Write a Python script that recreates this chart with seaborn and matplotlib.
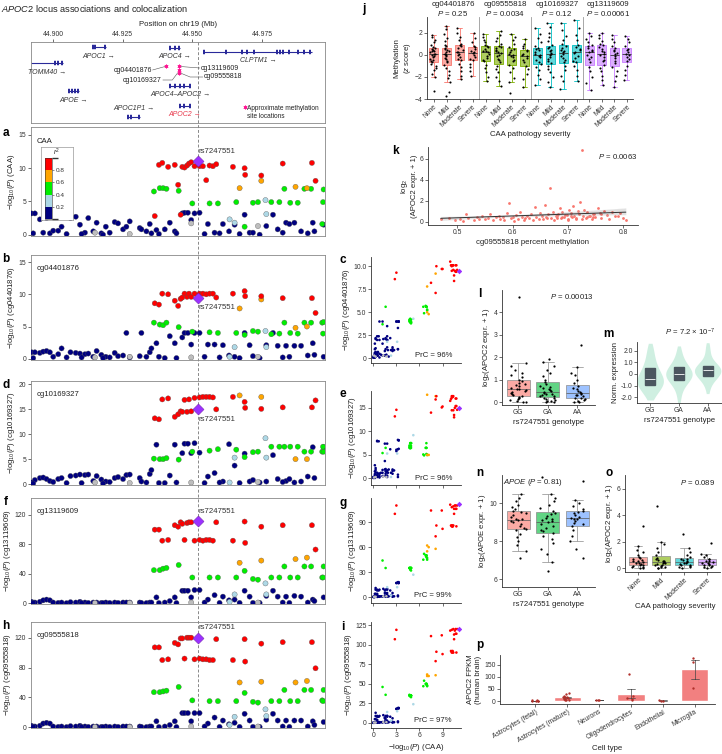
import numpy as np
import pandas as pd
import matplotlib
matplotlib.use("Agg")
import matplotlib.pyplot as plt
import seaborn as sns
from matplotlib.colors import ListedColormap, BoundaryNorm, to_rgb
from matplotlib.cm import ScalarMappable
from matplotlib.lines import Line2D

sns.set_theme(style="ticks")
plt.rcParams["font.family"] = ["Liberation Sans", "DejaVu Sans"]
plt.rcParams.update({
    "mathtext.fontset": "custom",
    "mathtext.rm": "Liberation Sans",
    "mathtext.it": "Liberation Sans:italic",
    "mathtext.bf": "Liberation Sans:bold",
    "axes.linewidth": 0.6,
    "axes.edgecolor": "#333333",
    "xtick.major.size": 2,
    "ytick.major.size": 2,
    "xtick.major.width": 0.5,
    "ytick.major.width": 0.5,
    "xtick.major.pad": 1.2,
    "ytick.major.pad": 1.2,
    "xtick.labelsize": 4.9,
    "ytick.labelsize": 4.9,
    "axes.labelsize": 5.6,
    "axes.labelpad": 1.5,
    "xtick.color": "#333333",
    "ytick.color": "#333333",
    "text.color": "#222222",
    "axes.labelcolor": "#222222",
})
np.random.seed(3)

# ---------------- data ----------------
# genes on chr19 (Mb)
gene_names = ["TOMM40", "APOC1", "APOE", "APOC1P1", "APOC4", "APOC4–APOC2", "APOC2", "CLPTM1"]
gene_start = [44.8919, 44.9141, 44.9054, 44.9266, 44.9419, 44.9419, 44.9455, 44.9541]
gene_end = [44.9036, 44.9189, 44.9093, 44.9311, 44.9455, 44.9493, 44.9493, 44.9931]
gene_exons = [
    [44.9006, 44.9018, 44.9031],
    [44.9143, 44.9151, 44.9187],
    [44.9056, 44.9066, 44.9079, 44.9090],
    [44.9268, 44.9279, 44.9309],
    [44.9421, 44.9439, 44.9453],
    [44.9421, 44.9439, 44.9456, 44.9470, 44.9490],
    [44.9457, 44.9470, 44.9490],
    [44.9543, 44.9620, 44.9680, 44.9695, 44.9722, 44.9803, 44.9815, 44.9827,
     44.9846, 44.9880, 44.9900, 44.9922],
]
site_names = ["cg04401876", "cg13119609", "cg10169327", "cg09555818"]
site_pos = [44.9407, 44.9452, 44.9452, 44.9452]

lead_snp = "rs7247551"
lead_pos = 44.9520
lead_logp = {"caa": 11.1, "cg04401876": 9.5, "cg10169327": 15.0,
             "cg13119609": 112, "cg09555818": 120}

snp_pos = [
    # r2 < 0.2
    44.8922, 44.8934, 44.8928, 44.8952, 44.8964, 44.8976, 44.8988, 44.9000, 44.9018, 44.9030,
    44.9048, 44.9062, 44.9081, 44.9096, 44.9114, 44.9126, 44.9144, 44.9156, 44.9173, 44.9189,
    44.9203, 44.9221, 44.9233, 44.9251, 44.9263, 44.9275, 44.9311, 44.9317, 44.9335, 44.9347,
    44.9353, 44.9102, 44.9179, 44.9371, 44.9401, 44.9419, 44.9437, 44.9464, 44.9472, 44.9484,
    44.9496, 44.9508, 44.9526, 44.9556, 44.9580, 44.9610, 44.9632, 44.9652, 44.9688, 44.9706,
    44.9766, 44.9790, 44.9807, 44.9837, 44.9867, 44.9891, 44.9933, 44.9972, 44.9544, 44.9598,
    44.9670, 44.9718, 44.9742, 44.9825, 44.9849, 44.9915, 44.9939, 44.9443, 44.9380,
    # no LD
    44.9275, 44.9496, 44.9736, 44.9150,
    # 0.2-0.4
    44.9652, 44.9763, 44.9766, 44.9634,
    # 0.4-0.6
    44.9362, 44.9383, 44.9395, 44.9407, 44.9451, 44.9500, 44.9562, 44.9592, 44.9658, 44.9688,
    44.9718, 44.9736, 44.9784, 44.9813, 44.9831, 44.9852, 44.9879, 44.9903, 44.9927, 44.9967,
    44.9972, 44.9970,
    # 0.6-0.8
    44.9670, 44.9748, 44.9871, 44.9912,
    # > 0.8
    44.9365, 44.9380, 44.9392, 44.9413, 44.9437, 44.9449, 44.9458, 44.9464, 44.9472, 44.9481,
    44.9488, 44.9496, 44.9508, 44.9526, 44.9538, 44.9550, 44.9562, 44.9574, 44.9586, 44.9646,
    44.9688, 44.9690, 44.9748, 44.9825, 44.9930, 44.9943,
]
snp_ld = (["0-0.2"] * 69 + ["NA"] * 4 + ["0.2-0.4"] * 4 + ["0.4-0.6"] * 22
          + ["0.6-0.8"] * 4 + ["0.8-1"] * 26)

logp_caa = [
    3.2, 3.2, 0.2, 2.3, 0.3, 2.5, 0.2, 0.6, 0.6, 1.2,
    0.1, 2.5, 2.7, 1.5, 0.3, 2.5, 0.5, 1.8, 0.2, 1.2,
    0.3, 1.9, 1.7, 0.8, 1.2, 2.0, 1.0, 0.8, 0.5, 1.6,
    0.2, 0.1, 0.0, 0.7, 0.8, 1.8, 0.5, 3.2, 3.3, 3.3,
    2.2, 3.2, 3.3, 1.6, 0.3, 1.6, 0.5, 1.5, 3.0, 0.3,
    1.3, 3.0, 0.8, 1.8, 1.8, 0.5, 1.8, 1.5, 0.1, 0.2,
    0.1, 0.3, 0.0, 0.3, 1.6, 0.2, 0.5, 0.2, 0.1,
    0.1, 1.7, 1.3, 0.3,
    1.8, 5.2, 3.1, 2.3,
    6.5, 7.0, 7.0, 6.9, 6.6, 4.7, 4.7, 4.7, 4.9, 1.2,
    4.8, 4.9, 4.9, 4.9, 6.9, 4.8, 4.8, 6.9, 6.9, 1.6,
    6.8, 4.9,
    7.0, 8.1, 7.2, 7.0,
    2.8, 10.5, 10.8, 10.2, 10.5, 7.5, 3.0, 10.2, 10.1, 10.4,
    10.7, 10.9, 10.3, 10.3, 10.3, 8.2, 10.4, 10.3, 10.6, 10.2,
    10.0, 9.0, 8.9, 10.7, 10.8, 8.1,
]
logp_cg04401876 = [
    1.0, 1.0, 0.1, 0.9, 1.1, 1.2, 1.0, 0.3, 0.7, 1.6,
    0.2, 1.0, 0.9, 0.8, 0.7, 0.8, 0.3, 1.2, 0.6, 0.3,
    0.2, 0.9, 0.4, 0.5, 4.0, 0.2, 0.4, 4.0, 0.3, 1.0,
    1.6, 0.2, 0.1, 2.4, 0.1, 3.5, 2.4, 3.3, 4.0, 4.0,
    2.2, 4.0, 4.0, 2.2, 2.2, 2.1, 0.5, 0.3, 4.0, 2.1,
    2.1, 4.0, 2.0, 2.0, 2.0, 2.0, 2.4, 0.3, 0.3, 0.2,
    0.1, 0.4, 0.1, 0.2, 0.3, 0.5, 0.6, 0.1, 0.3,
    0.3, 0.2, 0.3, 0.2,
    1.8, 4.3, 1.8, 0.3,
    5.6, 5.3, 5.2, 5.6, 4.9, 4.2, 4.1, 4.0, 4.0, 3.7,
    4.3, 4.2, 3.8, 3.9, 5.6, 4.0, 3.9, 5.6, 5.6, 5.6,
    5.7, 3.9,
    7.8, 9.2, 4.8, 5.0,
    8.6, 8.4, 10.1, 10.0, 9.0, 8.2, 9.3, 9.5, 10.1, 9.6,
    10.1, 9.6, 10.1, 10.1, 10.1, 10.0, 10.1, 10.1, 9.5, 10.1,
    10.5, 9.7, 9.7, 9.4, 9.4, 7.1,
]
logp_cg10169327 = [
    0.3, 0.8, 0.1, 1.2, 1.3, 1.0, 0.6, 0.4, 1.0, 1.2,
    0.2, 1.6, 1.7, 1.9, 1.8, 1.9, 0.6, 1.6, 0.9, 0.5,
    0.4, 1.2, 1.4, 1.0, 1.8, 1.9, 1.2, 0.5, 0.3, 2.0,
    2.8, 0.2, 0.1, 7.9, 0.2, 1.7, 7.9, 6.2, 8.1, 8.1,
    6.2, 8.2, 6.3, 1.5, 2.2, 0.5, 8.0, 3.7, 6.1, 0.5,
    0.5, 5.8, 1.0, 0.6, 0.3, 0.5, 7.4, 7.4, 0.2, 0.3,
    0.2, 0.8, 0.3, 0.4, 1.0, 1.5, 1.2, 0.3, 0.2,
    0.2, 0.3, 0.4, 0.3,
    5.3, 9.2, 5.3, 0.3,
    5.1, 5.0, 5.0, 5.2, 4.9, 6.5, 6.7, 7.0, 6.9, 5.4,
    6.4, 6.5, 7.5, 7.5, 7.5, 7.5, 7.5, 6.5, 6.5, 6.5,
    6.5, 7.5,
    17.8, 17.5, 5.0, 5.0,
    13.2, 13.0, 17.0, 17.2, 13.5, 14.0, 14.6, 14.5, 16.9, 14.5,
    17.0, 14.6, 17.3, 17.4, 17.5, 17.5, 17.5, 17.4, 15.0, 17.5,
    16.5, 15.3, 15.1, 15.4, 15.4, 16.8,
]
logp_cg13119609 = [
    2, 1, 0.5, 2, 4, 5, 4, 1, 0.5, 1,
    0.2, 1.5, 1, 2, 1, 0.5, 1, 1, 0.5, 1,
    0.5, 1, 0.5, 1, 1, 1, 1, 0.5, 0.3, 1,
    1, 0.3, 0.2, 8, 1, 3, 8, 17, 17, 17,
    8, 18, 18, 5, 11, 9, 4, 5, 17, 9,
    10, 17, 9, 9, 10, 9, 5, 8, 1, 0.5,
    0.5, 0.5, 0.5, 1, 0.5, 1, 3, 0.3, 0.3,
    0.5, 1, 1, 0.5,
    12, 27, 12, 2,
    45, 45, 47, 48, 52, 35, 35, 35, 35, 44,
    33, 32, 35, 35, 50, 35, 35, 50, 50, 35,
    50, 35,
    55, 58, 60, 62,
    100, 100, 85, 86, 106, 104, 110, 108, 86, 109,
    110, 110, 85, 86, 85, 86, 86, 85, 110, 85,
    111, 82, 104, 106, 106, 73,
]
logp_cg09555818 = [
    2, 1, 0.5, 2, 5, 6, 5, 1, 0.5, 1,
    0.3, 1.5, 1, 2, 1, 0.5, 1, 1, 0.5, 1,
    0.5, 1, 0.5, 1, 1, 1, 1, 0.5, 0.3, 1,
    1, 0.3, 0.2, 8, 1, 3, 8, 19, 19, 19,
    8, 19, 19, 5, 13, 9, 4, 6, 18, 9,
    10, 18, 9, 9, 9, 9, 8, 7, 1, 0.5,
    0.5, 0.5, 0.5, 1, 0.5, 1, 3, 0.3, 0.3,
    0.5, 1, 1, 0.5,
    14, 24, 15, 3,
    47, 47, 48, 49, 54, 36, 35, 35, 35, 46,
    34, 33, 35, 35, 50, 35, 35, 50, 50, 36,
    50, 35,
    60, 61, 60, 62,
    107, 107, 90, 91, 113, 111, 119, 119, 92, 120,
    120, 120, 91, 92, 91, 91, 90, 90, 118, 90,
    118, 88, 112, 114, 114, 79,
]
prc = {"cg04401876": "96%", "cg10169327": "96%", "cg13119609": "99%", "cg09555818": "97%"}

severity = ["None", "Mild", "Moderate", "Severe"]
genotypes = ["GG", "GA", "AA"]

# j: methylation z scores by CAA severity
meth_cg04401876 = {
    "None": [-3.3, -2.0, -1.7, -1.4, -1.2, -1.0, -0.8, -0.65, -0.6, -0.5, -0.35, -0.2, -0.1, 0.0,
             0.1, 0.1, 0.2, 0.3, 0.35, 0.45, 0.55, 0.6, 0.7, 0.9, 1.1, 1.3, 1.6, 1.8],
    "Mild": [-3.7, -3.4, -2.5, -2.1, -1.8, -1.5, -1.2, -0.9, -0.7, -0.55, -0.4, -0.3, -0.15, 0.0,
             0.05, 0.1, 0.2, 0.3, 0.4, 0.5, 0.6, 0.75, 0.9, 1.2, 1.5, 1.9, 2.3, 2.6],
    "Moderate": [-2.2, -1.9, -1.5, -1.1, -0.8, -0.5, -0.4, -0.2, 0.0, 0.1, 0.2, 0.25, 0.4, 0.6,
                 0.8, 0.9, 1.0, 1.3, 1.6, 2.0, 2.4],
    "Severe": [-1.9, -1.5, -1.1, -0.8, -0.5, -0.4, -0.2, 0.0, 0.15, 0.2, 0.35, 0.5, 0.7, 0.8,
               1.1, 1.5, 2.0],
}
meth_cg09555818 = {
    "None": [-2.4, -2.0, -1.6, -1.2, -0.9, -0.6, -0.45, -0.3, -0.1, 0.05, 0.2, 0.3, 0.35, 0.5,
             0.65, 0.8, 0.9, 1.1, 1.3, 1.6, 1.9],
    "Mild": [-2.8, -2.4, -2.0, -1.6, -1.3, -1.0, -0.7, -0.5, -0.35, -0.15, 0.0, 0.15, 0.25, 0.35,
             0.45, 0.6, 0.7, 0.8, 1.0, 1.2, 1.5, 1.8, 2.1],
    "Moderate": [-3.5, -2.5, -2.1, -1.6, -1.2, -0.9, -0.6, -0.45, -0.25, -0.1, 0.0, 0.1, 0.25,
                 0.4, 0.55, 0.7, 0.95, 1.3, 1.6, 1.9],
    "Severe": [-2.9, -2.2, -1.7, -1.3, -1.0, -0.7, -0.5, -0.3, -0.1, 0.0, 0.1, 0.3, 0.45, 0.6,
               0.8, 1.0, 1.4],
}
meth_cg10169327 = {
    "None": [-2.7, -2.2, -1.8, -1.4, -1.1, -0.8, -0.7, -0.45, -0.25, -0.1, 0.0, 0.1, 0.25, 0.4,
             0.5, 0.6, 0.8, 1.1, 1.5, 1.9, 2.4],
    "Mild": [-2.9, -2.5, -2.0, -1.6, -1.3, -1.0, -0.75, -0.6, -0.4, -0.2, -0.05, 0.05, 0.15,
             0.3, 0.45, 0.6, 0.7, 0.9, 1.2, 1.6, 2.0, 2.5, 2.9],
    "Moderate": [-3.1, -2.4, -1.9, -1.4, -1.0, -0.7, -0.5, -0.3, -0.1, 0.1, 0.2, 0.3, 0.45, 0.6,
                 0.8, 1.0, 1.3, 1.7, 2.2, 2.9],
    "Severe": [-2.4, -1.9, -1.4, -1.0, -0.7, -0.6, -0.3, -0.1, 0.15, 0.25, 0.4, 0.55, 0.7, 0.9,
               1.3, 1.8, 2.4, 3.1],
}
meth_cg13119609 = {
    "None": [-3.2, -2.6, -2.0, -1.5, -1.1, -0.7, -0.4, -0.2, 0.0, 0.2, 0.35, 0.45, 0.6, 0.75,
             0.9, 1.1, 1.4, 1.7, 2.0],
    "Mild": [-2.7, -2.3, -1.9, -1.5, -1.2, -0.9, -0.6, -0.45, -0.25, -0.05, 0.1, 0.25, 0.35,
             0.5, 0.65, 0.85, 1.0, 1.2, 1.5, 1.8, 2.0],
    "Moderate": [-2.9, -2.4, -1.9, -1.5, -1.1, -0.75, -0.55, -0.3, -0.1, 0.05, 0.15, 0.3, 0.45,
                 0.6, 0.8, 1.1, 1.4, 1.8],
    "Severe": [-2.3, -1.8, -1.4, -1.0, -0.6, -0.4, -0.2, 0.0, 0.1, 0.25, 0.4, 0.55, 0.8, 1.1,
               1.4, 1.7],
}
j_probes = ["cg04401876", "cg09555818", "cg10169327", "cg13119609"]
j_pvals = ["0.25", "0.0034", "0.12", "0.00061"]
j_data = [meth_cg04401876, meth_cg09555818, meth_cg10169327, meth_cg13119609]

# k: APOC2 expression vs cg09555818 methylation
meth_pct = [
    0.470, 0.485, 0.495, 0.505, 0.510, 0.515, 0.520, 0.530, 0.535, 0.540,
    0.545, 0.550, 0.555, 0.560, 0.565, 0.570, 0.575, 0.578, 0.582, 0.585,
    0.590, 0.593, 0.597, 0.600, 0.603, 0.607, 0.610, 0.613, 0.617, 0.620,
    0.623, 0.627, 0.630, 0.633, 0.637, 0.640, 0.643, 0.647, 0.650, 0.653,
    0.655, 0.658, 0.660, 0.663, 0.665, 0.667, 0.670, 0.673, 0.675, 0.678,
    0.680, 0.683, 0.685, 0.688, 0.690, 0.693, 0.695, 0.698, 0.700, 0.703,
    0.705, 0.708, 0.710, 0.712, 0.715, 0.718, 0.720, 0.722, 0.725, 0.727,
    0.730, 0.733, 0.735, 0.738, 0.740, 0.743, 0.745, 0.748, 0.750, 0.755,
    0.758, 0.760, 0.765, 0.770, 0.775, 0.780, 0.785, 0.790, 0.795, 0.800,
    0.805, 0.690, 0.715, 0.735, 0.705, 0.725, 0.745, 0.760, 0.680, 0.700,
]
apoc2_expr = [
    0.25, 0.40, 0.15, 0.30, 0.08, 0.78, 0.35, 0.20, 0.45, 0.30,
    0.60, 0.25, 0.38, 0.70, 0.15, 0.42, 0.55, 0.30, 0.48, 0.20,
    0.80, 1.75, 0.35, 0.50, 0.10, 0.65, 0.30, 0.95, 0.45, 0.20,
    0.40, 0.55, 0.35, 0.75, 0.15, 1.40, 0.50, 0.30, 0.85, 0.60,
    0.25, 1.55, 0.45, 0.40, 0.70, 3.20, 0.40, 0.90, 0.20, 0.55,
    0.55, 0.75, 1.30, 0.35, 0.95, 0.50, 0.65, 0.65, 0.30, 1.15,
    0.80, 0.45, 1.50, 0.60, 0.25, 1.00, 0.70, 1.85, 6.80, 0.55,
    1.10, 0.40, 0.90, 0.60, 0.60, 0.30, 0.75, 0.75, 0.50, 1.35,
    0.85, 0.40, 1.05, 0.65, 0.30, 0.95, 0.55, 0.55, 0.80, 0.40,
    0.15, 0.50, 0.35, 0.45, 0.60, 0.28, 0.42, 0.70, 0.38, 0.22,
]

# l: APOC2 expression by genotype
apoc2_by_geno = {
    "GG": [4.7, 1.75, 1.6, 1.45, 1.3, 1.2, 1.1, 1.0, 0.92, 0.85, 0.8, 0.75, 0.7, 0.65, 0.6,
           0.58, 0.55, 0.5, 0.45, 0.4, 0.35, 0.3, 0.28, 0.22, 0.18, 0.12, 0.08, 0.05, 0.02, 0.0],
    "GA": [1.9, 1.8, 1.6, 1.45, 1.3, 1.15, 1.0, 0.9, 0.8, 0.72, 0.68, 0.62, 0.58, 0.52, 0.48,
           0.45, 0.42, 0.38, 0.34, 0.3, 0.27, 0.25, 0.2, 0.16, 0.12, 0.08, 0.05, 0.03, 0.01, 0.0],
    "AA": [2.55, 1.55, 1.3, 1.2, 1.0, 0.85, 0.7, 0.62, 0.58, 0.5, 0.45, 0.4, 0.36, 0.33, 0.3,
           0.25, 0.2, 0.18, 0.14, 0.1, 0.05, 0.02, 0.0],
}
# m: normalized expression by genotype
norm_expr_by_geno = {
    "GG": [-2.0, -1.7, -1.5, -1.3, -1.15, -1.05, -0.95, -0.85, -0.75, -0.65, -0.55, -0.5, -0.4,
           -0.3, -0.2, -0.05, 0.1, 0.3, 0.5, 0.7, 0.9, 1.2, 1.6, 2.0, 2.4],
    "GA": [-2.3, -1.6, -1.2, -0.9, -0.75, -0.6, -0.5, -0.4, -0.3, -0.2, -0.1, -0.05, 0.0, 0.05,
           0.15, 0.25, 0.35, 0.45, 0.6, 0.7, 0.85, 1.05, 1.3, 1.7, 2.2],
    "AA": [-1.5, -0.9, -0.6, -0.4, -0.3, -0.2, -0.1, 0.0, 0.1, 0.2, 0.25, 0.3, 0.35, 0.45, 0.5,
           0.6, 0.7, 0.75, 0.9, 1.1, 1.5, 2.0, 2.5],
}
# n: APOE expression by genotype
apoe_by_geno = {
    "GG": [10.5, 10.3, 10.1, 9.9, 9.8, 9.7, 9.6, 9.55, 9.5, 9.4, 9.3, 9.2, 9.15, 9.1, 9.05, 9.0,
           8.9, 8.8, 8.7, 8.65, 8.6, 8.4, 8.2, 8.0, 7.8, 7.5, 7.1],
    "GA": [11.4, 10.5, 10.3, 10.1, 9.9, 9.75, 9.6, 9.5, 9.45, 9.35, 9.25, 9.15, 9.1, 9.05, 9.0,
           8.9, 8.8, 8.7, 8.6, 8.55, 8.45, 8.3, 8.1, 7.9, 7.6, 7.3, 6.9, 6.4],
    "AA": [11.2, 10.2, 10.0, 9.85, 9.7, 9.6, 9.55, 9.5, 9.4, 9.3, 9.25, 9.2, 9.15, 9.05, 8.95,
           8.9, 8.8, 8.6, 8.3, 8.0, 7.6, 7.1],
}
# o: APOC2 expression by CAA severity
apoc2_by_severity = {
    "None": [3.2, 1.7, 1.4, 1.2, 1.0, 0.85, 0.75, 0.7, 0.6, 0.55, 0.5, 0.45, 0.4, 0.35, 0.3,
             0.25, 0.2, 0.15, 0.1, 0.05, 0.02, 0.0],
    "Mild": [4.7, 2.0, 1.8, 1.5, 1.2, 1.0, 0.8, 0.65, 0.6, 0.55, 0.5, 0.45, 0.4, 0.35, 0.3,
             0.25, 0.2, 0.15, 0.1, 0.05, 0.02, 0.0],
    "Moderate": [2.55, 1.5, 1.2, 1.0, 0.85, 0.7, 0.65, 0.6, 0.5, 0.45, 0.4, 0.35, 0.3, 0.25,
                 0.2, 0.15, 0.1, 0.05, 0.0],
    "Severe": [1.9, 1.1, 1.0, 0.85, 0.7, 0.65, 0.55, 0.5, 0.45, 0.4, 0.35, 0.3, 0.25, 0.2,
               0.15, 0.1, 0.05, 0.0],
}
# p: APOC2 FPKM in human brain cell types
cell_types = ["Astrocytes (fetal)", "Astrocytes (mature)", "Neurons", "Oligodendrocytes",
              "Endothelial", "Microglia"]
fpkm_by_cell = {
    "Astrocytes (fetal)": [3.0, 2.0, 1.5, 2.5, 1.0, 2.0],
    "Astrocytes (mature)": [35, 28, 22, 18, 15, 12, 10, 8, 6, 5, 4, 17],
    "Neurons": [5.0, 3.0, 4.0],
    "Oligodendrocytes": [110, 20, 12, 8, 5],
    "Endothelial": [2.0, 3.0, 1.0],
    "Microglia": [178, 160, 55],
}

# ---------------- style ----------------
ld_order = ["0-0.2", "0.2-0.4", "0.4-0.6", "0.6-0.8", "0.8-1"]
ld_colors = {"0-0.2": "#000080", "0.2-0.4": "#ADD8E6", "0.4-0.6": "#00EE00",
             "0.6-0.8": "#FFA500", "0.8-1": "#FF0000", "NA": "#BEBEBE"}
lead_color = "#9B30FF"
gene_col = "#2A2A9A"
site_col = "#FF1493"
gg_colors = ["#F8766D", "#00BA38", "#619CFF"]
sev_colors = ["#F8766D", "#7CAE00", "#00BFC4", "#C77CFF"]
FS = 5.6   # annotation text size


def soften(c, a=0.62):
    r = np.array(to_rgb(c))
    return tuple(r * a + (1 - a))


def long_df(groups):
    keys, vals = [], []
    for k, v in groups.items():
        keys += [k] * len(v)
        vals += list(v)
    return pd.DataFrame({"grp": keys, "val": vals})


snps = pd.DataFrame({
    "pos": snp_pos, "ld": snp_ld, "caa": logp_caa,
    "cg04401876": logp_cg04401876, "cg10169327": logp_cg10169327,
    "cg13119609": logp_cg13119609, "cg09555818": logp_cg09555818,
})

W, H = 722, 754
fig = plt.figure(figsize=(W / 100, H / 100), dpi=100)


def box(x0, y0, x1, y1):
    return fig.add_axes([x0 / W, 1 - y1 / H, (x1 - x0) / W, (y1 - y0) / H])


def ftext(x, y, s, **kw):
    fig.text(x / W, 1 - y / H, s, **kw)


def letter(x, y, s):
    ftext(x, y, s, fontsize=8.5, fontweight="bold", ha="center", va="center", color="black")


x_lo, x_hi = 44.8919, 44.9977

ftext(1, 8, r"$\it{APOC2}$ locus associations and colocalization", fontsize=6.7, va="center")

# ---------------- gene track ----------------
axg = box(30.7, 42, 325, 123)
axg.set_facecolor("none")
axg.set_xlim(x_lo, x_hi)
axg.set_ylim(123, 42)
gene_row = [63, 47, 91, 117, 48, 86, 106, 52]
gene_lab_dy = [9, 9, 9, -8, 9, 9, 9, 9]
for name, s, e, ex, row, dy in zip(gene_names, gene_start, gene_end, gene_exons, gene_row, gene_lab_dy):
    axg.plot([s, e], [row, row], color=gene_col, lw=0.8, solid_capstyle="butt")
    for x in ex:
        axg.plot([x - 0.00035, x + 0.00035], [row, row], color=gene_col, lw=3.2,
                 solid_capstyle="butt")
    col = "#E8374A" if name == "APOC2" else "#333333"
    axg.text((max(s, x_lo) + e) / 2, row + dy, name + " →", fontsize=5.0, style="italic",
             ha="center", va="center", color=col)
site_row = [66, 66, 69.5, 73]
axg.scatter(site_pos, site_row, marker=(6, 2, 0), s=6, color=site_col, linewidth=0.5, zorder=4)
axg.plot([44.9357, 44.9402], [70, 66.5], color="#555555", lw=0.4)
axg.text(44.9354, 70, site_names[0], fontsize=5.0, ha="right", va="center")
axg.plot([44.9394, 44.9428, 44.9447], [80, 80, 73], color="#555555", lw=0.4)
axg.text(44.9391, 80, site_names[2], fontsize=5.0, ha="right", va="center")
axg.plot([44.9457, 44.9527], [66.5, 68], color="#555555", lw=0.4)
axg.text(44.9530, 68, site_names[1], fontsize=5.0, ha="left", va="center")
axg.plot([44.9457, 44.9492, 44.9538], [73, 77, 77], color="#555555", lw=0.4)
axg.text(44.9541, 77, site_names[3], fontsize=5.0, ha="left", va="center")
axg.scatter([44.9688], [106.5], marker=(6, 2, 0), s=6, color=site_col, linewidth=0.5)
axg.text(44.9697, 104.5, "Approximate methylation\nsite locations", fontsize=4.7, ha="left",
         va="top", linespacing=1.2)
axg.xaxis.tick_top()
axg.xaxis.set_label_position("top")
axg.set_xticks([44.900, 44.925, 44.950, 44.975])
axg.set_xticklabels(["44.900", "44.925", "44.950", "44.975"])
axg.set_yticks([])
axg.set_xlabel("Position on chr19 (Mb)", labelpad=3)
for sp in axg.spines.values():
    sp.set_color("#888888")

# ---------------- locus panels ----------------
locus_specs = [
    ("caa", "CAA", (127, 236), (-0.2, 16.2), [0, 5, 10, 15], 7, "a", 133),
    ("cg04401876", "cg04401876", (255, 360), (-0.2, 16.1), [0, 5, 10, 15], -7, "b", 259),
    ("cg10169327", "cg10169327", (381, 485), (-0.2, 20.7), [0, 5, 10, 15, 20], -7, "d", 385),
    ("cg13119609", "cg13119609", (498, 604), (-1, 143), [0, 40, 80, 120], 7, "f", 502),
    ("cg09555818", "cg09555818", (622, 728), (-1, 141), [0, 40, 80, 120], 7, "h", 626),
]
locus_axes = []
for col, lab, (y0, y1), ylim, yt, dy, let, ly in locus_specs:
    ax = box(30.7, y0, 325, y1)
    ax.set_facecolor("none")
    sns.scatterplot(data=snps, x="pos", y=col, hue="ld", palette=ld_colors, s=14,
                    edgecolor="#555555", linewidth=0.25, legend=False, ax=ax, zorder=3)
    ax.scatter([lead_pos], [lead_logp[col]], marker="D", s=32, color=lead_color,
               edgecolor="#6A1B9A", linewidth=0.3, zorder=5)
    ax.annotate(lead_snp, (lead_pos, lead_logp[col]), xytext=(0.5, dy), textcoords="offset points",
                fontsize=FS, ha="left", va="center", color="#333333")
    ax.text(0.02, 0.87, lab, transform=ax.transAxes, fontsize=FS, va="center")
    ax.set_xlim(x_lo, x_hi)
    ax.set_ylim(*ylim)
    ax.set_yticks(yt)
    ax.set_xticks([])
    ax.set_xlabel("")
    ax.set_ylabel(r"$-$log$_{10}$($\it{P}$) (" + lab + ")", labelpad=1)
    for sp in ax.spines.values():
        sp.set_color("#888888")
    locus_axes.append(ax)
    letter(6, ly, let)

# r2 legend in panel a
leg = box(41, 147, 73, 220)
leg.set_xticks([])
leg.set_yticks([])
for sp in leg.spines.values():
    sp.set_color("#999999")
    sp.set_linewidth(0.5)
cax = box(45, 158, 52, 219)
sm = ScalarMappable(norm=BoundaryNorm([0, 0.2, 0.4, 0.6, 0.8, 1.0], 5),
                    cmap=ListedColormap([ld_colors[k] for k in ld_order]))
cb = fig.colorbar(sm, cax=cax, ticks=[0.2, 0.4, 0.6, 0.8])
cb.outline.set_linewidth(0.4)
cax.tick_params(labelsize=4.6, length=1.5, width=0.4, pad=1)
ftext(57, 152, r"$\it{r}^2$", fontsize=5.0, ha="center", va="center")

# dashed line through the lead SNP
xf = fig.transFigure.inverted().transform(locus_axes[0].transData.transform((lead_pos, 0)))[0]
fig.add_artist(Line2D([xf, xf], [1 - 42 / H, 1 - 728 / H], transform=fig.transFigure,
                      ls=(0, (3, 2)), color="#888888", lw=0.7, zorder=-1))

# ---------------- colocalization scatters ----------------
scat_specs = [
    ("cg04401876", (257, 363), (-0.5, 11), [0, 2.5, 5, 7.5, 10], ["0", "2.5", "5.0", "7.5", "10.0"], "c", 260),
    ("cg10169327", (391, 485), (-1.4, 18.6), [0, 5, 10, 15], None, "e", 394),
    ("cg13119609", (498, 603), (-7, 119), [0, 30, 60, 90], None, "g", 503),
    ("cg09555818", (622, 728), (-6.4, 129), [0, 25, 50, 75, 100, 125], None, "i", 627),
]
for k, (col, (y0, y1), ylim, yt, ytl, let, ly) in enumerate(scat_specs):
    ax = box(371, y0, 461, y1)
    sns.scatterplot(data=snps, x="caa", y=col, hue="ld", palette=ld_colors, s=3.5,
                    linewidth=0, legend=False, ax=ax)
    ax.scatter([lead_logp["caa"]], [lead_logp[col]], marker="D", s=8, color=lead_color,
               linewidth=0, zorder=5)
    ax.set_xlim(-0.3, 11.4)
    ax.set_ylim(*ylim)
    ax.set_xticks([0, 3, 6, 9])
    ax.set_yticks(yt)
    if ytl:
        ax.set_yticklabels(ytl)
    ax.set_ylabel(r"$-$log$_{10}$($\it{P}$) (" + col + ")", labelpad=1)
    if k == 3:
        ax.set_xlabel(r"$-$log$_{10}$($\it{P}$) (CAA)")
    else:
        ax.set_xticklabels([])
        ax.set_xlabel("")
    ax.text(0.9, 0.07, "PrC = " + prc[col], transform=ax.transAxes, fontsize=FS,
            ha="right", va="center")
    sns.despine(ax=ax)
    letter(343, ly, let)

# ---------------- j ----------------
j_edges = [427, 479, 531, 583, 633]
for i in range(4):
    ax = box(j_edges[i], 17, j_edges[i + 1], 99)
    df = long_df(j_data[i])
    sns.boxplot(data=df, x="grp", y="val", order=severity, color=soften(sev_colors[i]),
                linecolor=sev_colors[i], linewidth=0.6, width=0.72, showfliers=False,
                saturation=1, medianprops={"color": "#333333"}, ax=ax)
    sns.stripplot(data=df, x="grp", y="val", order=severity, color="black", size=1.5,
                  jitter=0.25, ax=ax, zorder=3)
    ax.set_ylim(-4, 3.4)
    ax.set_yticks([-4, -2, 0, 2])
    ax.set_xticks(range(4))
    ax.set_xticklabels(severity, rotation=45, ha="right", rotation_mode="anchor")
    ax.set_xlabel("")
    xc = (j_edges[i] + j_edges[i + 1]) / 2
    ftext(xc, 5, j_probes[i], fontsize=5.7, ha="center", va="center")
    ftext(xc, 13.5, r"$\it{P}$ = " + j_pvals[i], fontsize=5.7, ha="center", va="center")
    if i == 0:
        ax.set_ylabel("Methylation\n(" + r"$\it{z}$" + " score)")
    else:
        ax.set_ylabel("")
        ax.tick_params(axis="y", left=False, labelleft=False)
        ax.spines["left"].set_color("#999999")
    sns.despine(ax=ax)
ftext(530, 134, "CAA pathology severity", fontsize=5.6, ha="center", va="center")
letter(364, 9, "j")

# ---------------- k ----------------
axk = box(428, 147, 638, 225)
sns.scatterplot(x=meth_pct, y=apoc2_expr, color="#F8766D", s=4, linewidth=0, ax=axk)
sns.regplot(x=meth_pct, y=apoc2_expr, scatter=False, color="#333333", ci=95, seed=0,
            line_kws={"linewidth": 0.7}, ax=axk)
axk.set_xlim(0.447, 0.827)
axk.set_ylim(-0.3, 7.1)
axk.set_xticks([0.5, 0.6, 0.7, 0.8])
axk.set_yticks([0, 2, 4, 6])
axk.set_xlabel("cg09555818 percent methylation")
axk.set_ylabel("log$_2$\n(APOC2 expr. + 1)")
axk.text(0.995, 0.88, r"$\it{P}$ = 0.0063", transform=axk.transAxes, fontsize=FS,
         ha="right", va="center")
sns.despine(ax=axk)
letter(395, 151, "k")


def box_strip(ax, groups, order, colors, width=0.78):
    df = long_df(groups)
    sns.boxplot(data=df, x="grp", y="val", hue="grp", order=order, hue_order=order,
                palette=[soften(c) for c in colors], linecolor="#8A8A8A", linewidth=0.5,
                width=width, showfliers=False, saturation=1, legend=False,
                medianprops={"color": "#555555"}, ax=ax)
    sns.stripplot(data=df, x="grp", y="val", order=order, color="black", size=1.6,
                  jitter=0.27, ax=ax, zorder=3)
    ax.set_xlabel("")
    sns.despine(ax=ax)


# ---------------- l ----------------
axl = box(502, 290, 595, 405)
box_strip(axl, apoc2_by_geno, genotypes, gg_colors)
axl.set_xlim(-0.55, 2.6)
axl.set_ylim(-0.13, 5.0)
axl.set_yticks([0, 1, 2, 3, 4])
axl.set_xlabel("rs7247551 genotype")
axl.set_ylabel("log$_2$(APOC2 expr. + 1)")
axl.text(0.75, 0.94, r"$\it{P}$ = 0.00013", transform=axl.transAxes, fontsize=FS,
         ha="center", va="center")
letter(480, 294, "l")

# ---------------- m ----------------
axm = box(637, 342, 722, 403)
dfm = long_df(norm_expr_by_geno)
sns.violinplot(data=dfm, x="grp", y="val", order=genotypes, color="#CFEFE1", inner=None,
               density_norm="width", width=0.92, cut=0.4, linewidth=0, saturation=1, ax=axm)
sns.boxplot(data=dfm, x="grp", y="val", order=genotypes, color="#4B565F", linecolor="#4B565F",
            width=0.34, showfliers=False, showcaps=False, whiskerprops={"linewidth": 0},
            medianprops={"color": "white", "linewidth": 0.6}, saturation=1, ax=axm)
axm.set_xlim(-0.46, 2.5)
axm.set_ylim(-2.5, 2.75)
axm.set_yticks([-2, -1, 0, 1, 2])
axm.set_yticklabels(["-2.0", "-1.0", "0", "1.0", "2.0"])
axm.set_xlabel("rs7247551 genotype")
axm.set_ylabel("Norm. expression")
axm.text(0.62, 1.16, r"$\it{P}$ = 7.2 × 10$^{-7}$", transform=axm.transAxes, fontsize=FS,
         ha="center", va="center")
sns.despine(ax=axm)
letter(608, 334, "m")

# ---------------- n ----------------
axn = box(502, 475, 595, 587)
box_strip(axn, apoe_by_geno, genotypes, gg_colors)
axn.set_xlim(-0.55, 2.6)
axn.set_ylim(5.58, 11.5)
axn.set_yticks([6, 8, 10])
axn.set_xlabel("rs7247551 genotype")
axn.set_ylabel("log$_2$(APOE expr. + 1)")
axn.text(0.01, 0.93, r"$\it{APOE}$ ($\it{P}$ = 0.81)", transform=axn.transAxes, fontsize=FS,
         ha="left", va="center")
letter(480, 473, "n")

# ---------------- o ----------------
axo = box(625, 475, 720, 572)
box_strip(axo, apoc2_by_severity, severity, sev_colors, width=0.75)
axo.set_xlim(-0.57, 3.57)
axo.set_ylim(-0.3, 7.06)
axo.set_yticks([0, 2, 4, 6])
axo.set_xticks(range(4))
axo.set_xticklabels(severity, rotation=45, ha="right", rotation_mode="anchor")
axo.set_ylabel("log$_2$(APOC2 expr. + 1)")
axo.text(0.95, 0.92, r"$\it{P}$ = 0.089", transform=axo.transAxes, fontsize=FS,
         ha="right", va="center")
ftext(675, 607, "CAA pathology severity", fontsize=5.6, ha="center", va="center")
letter(609, 473, "o")

# ---------------- p ----------------
axp = box(500, 655, 715, 704)
dfp = long_df(fpkm_by_cell)
sns.barplot(data=dfp, x="grp", y="val", order=cell_types, color="#F28080", errorbar=("se", 1),
            capsize=0.25, err_kws={"linewidth": 0.5, "color": "#444444"}, width=0.85,
            saturation=1, ax=axp)
sns.stripplot(data=dfp, x="grp", y="val", order=cell_types, color="#B0302B", size=1.7,
              jitter=0.12, ax=axp, zorder=3)
axp.set_xlim(-1.1, 5.63)
axp.set_ylim(-12, 190)
axp.set_yticks([0, 50, 100, 150])
axp.set_xticks(range(6))
axp.set_xticklabels(cell_types, rotation=30, ha="right", rotation_mode="anchor")
axp.set_xlabel("Cell type", labelpad=1)
axp.set_ylabel("APOC2 FPKM\n(human brain)")
sns.despine(ax=axp)
letter(480, 645, "p")

fig.savefig("out.png", dpi=100)
